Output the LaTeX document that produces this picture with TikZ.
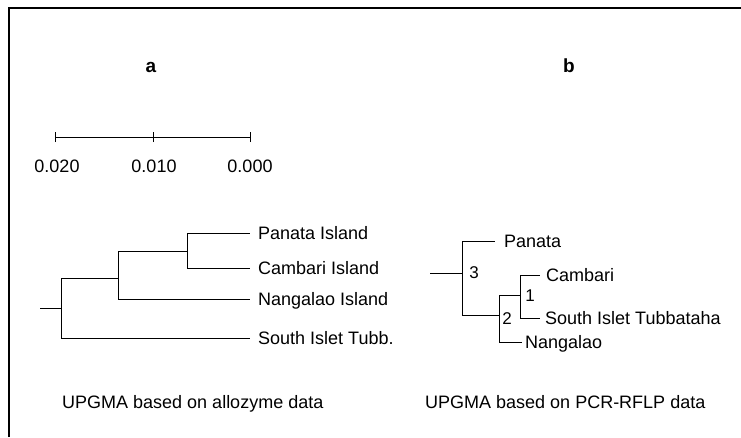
\documentclass[tikz,border=0pt]{standalone}
\usepackage{fontspec}
\setmainfont{Liberation Sans}
\begin{document}
\begin{tikzpicture}[x=1pt,y=-1pt,
  br/.style={line width=1pt},
  lab/.style={anchor=base west,inner sep=0pt,font=\fontsize{18}{20}\selectfont},
  num/.style={anchor=center,inner sep=0pt,font=\fontsize{17}{19}\selectfont},
  sc/.style={anchor=center,inner sep=0pt,font=\fontsize{18}{20}\selectfont},
  ttl/.style={anchor=base,inner sep=0pt,font=\fontsize{19}{21}\selectfont\bfseries}]
\useasboundingbox (0,0) rectangle (741,437);
% frame
\coordinate (fl) at (9,437);
\coordinate (fc) at (9,8);
\coordinate (fr) at (741,8);
\draw[line width=1.1pt] (fl) -- (fc) -- (fr);
% titles
\node[ttl] (ta) at (151,72) {a};
\node[ttl] (tb) at (569,72) {b};
% scale bar
\coordinate (s0) at (55,137);
\coordinate (s1) at (153,137);
\coordinate (s2) at (250,137);
\draw[br] (s0) -- (s2);
\foreach \p in {s0,s1,s2} \draw[br] ([yshift=-5pt]\p) -- ([yshift=5pt]\p);
\node[sc] (l0) at (57,166) {0.020};
\node[sc] (l1) at (154,166) {0.010};
\node[sc] (l2) at (250,166) {0.000};
% tree a
\coordinate (ar0) at (40,308);
\coordinate (ar) at (61,308);
\coordinate (ar-t) at (61,278);
\coordinate (ar-b) at (61,338);
\coordinate (an1) at (118,278);
\coordinate (an1-t) at (118,251);
\coordinate (an1-b) at (118,299);
\coordinate (an2) at (187,251);
\coordinate (an2-t) at (187,233);
\coordinate (an2-b) at (187,268);
\coordinate (ePan) at (250,233);
\coordinate (eCam) at (250,268);
\coordinate (eNan) at (250,299);
\coordinate (eSou) at (250,338);
\draw[br] (ar0) -- (ar);
\draw[br] (ar-t) -- (ar-b);
\draw[br] (ar-t) -- (an1);
\draw[br] (an1-t) -- (an1-b);
\draw[br] (an1-t) -- (an2);
\draw[br] (an2-t) -- (an2-b);
\draw[br] (an2-t) -- (ePan);
\draw[br] (an2-b) -- (eCam);
\draw[br] (an1-b) -- (eNan);
\draw[br] (ar-b) -- (eSou);
\node[lab] (tPan) at (258,239.5) {Panata Island};
\node[lab] (tCam) at (258,274.5) {Cambari Island};
\node[lab] (tNan) at (258,305.5) {Nangalao Island};
\node[lab] (tSou) at (258,344.5) {South Islet Tubb.};
% tree b
\coordinate (br0) at (430,273);
\coordinate (br) at (462,273);
\coordinate (br-t) at (462,241);
\coordinate (br-b) at (462,315);
\coordinate (bn2) at (499,315);
\coordinate (bn2-t) at (499,295);
\coordinate (bn2-b) at (499,342);
\coordinate (bn1) at (520,295);
\coordinate (bn1-t) at (520,275);
\coordinate (bn1-b) at (520,318);
\coordinate (fPan) at (495,241);
\coordinate (fCam) at (540,275);
\coordinate (fSou) at (540,318);
\coordinate (fNan) at (522,342);
\draw[br] (br0) -- (br);
\draw[br] (br-t) -- (br-b);
\draw[br] (br-t) -- (fPan);
\draw[br] (br-b) -- (bn2);
\draw[br] (bn2-t) -- (bn2-b);
\draw[br] (bn2-t) -- (bn1);
\draw[br] (bn1-t) -- (bn1-b);
\draw[br] (bn1-t) -- (fCam);
\draw[br] (bn1-b) -- (fSou);
\draw[br] (bn2-b) -- (fNan);
\node[num] (n3) at (474,273) {3};
\node[num] (n2) at (507,319) {2};
\node[num] (n1) at (530,296) {1};
\node[lab] (uPan) at (504,247.5) {Panata};
\node[lab] (uCam) at (546,281.5) {Cambari};
\node[lab] (uSou) at (545,324.5) {South Islet Tubbataha};
\node[lab] (uNan) at (525,348.5) {Nangalao};
% captions
\node[lab] (ca) at (62,408.5) {UPGMA based on allozyme data};
\node[lab] (cb) at (425,408.5) {UPGMA based on PCR-RFLP data};
\end{tikzpicture}
\end{document}
